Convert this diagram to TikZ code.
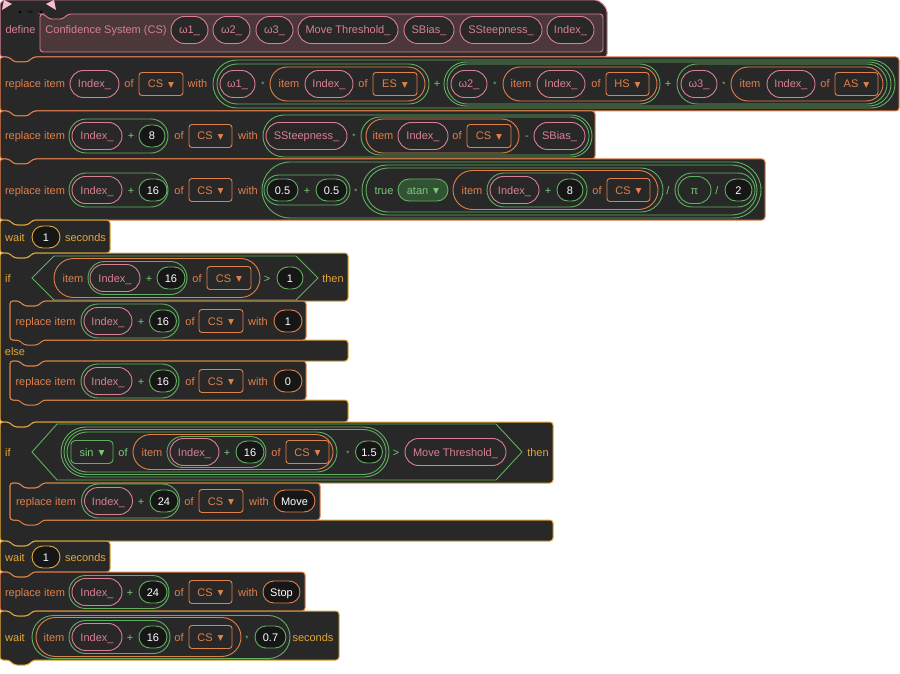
\documentclass[tikz,border=0pt]{standalone}
\usepackage{fontspec}
\setmainfont{Liberation Sans}
\newfontfamily\arrowfont[Scale=0.7]{DejaVu Sans}
\newcommand\dn{\hspace{5pt}\raisebox{0.5pt}{\arrowfont ▼}}
\definecolor{blockbg}{RGB}{40,40,40}
\definecolor{numbg}{RGB}{22,22,22}
\definecolor{listc}{RGB}{226,128,74}
\definecolor{ctrlc}{RGB}{226,168,56}
\definecolor{opc}{RGB}{96,176,96}
\definecolor{optext}{RGB}{120,200,120}
\definecolor{myc}{RGB}{218,128,148}
\definecolor{protoc}{RGB}{76,56,58}
\definecolor{earc}{RGB}{246,190,206}
\definecolor{opmenuc}{RGB}{50,82,52}
\tikzset{
  every node/.style={font=\fontsize{11}{13}\selectfont,inner sep=0pt,text height=8pt,text depth=0pt},
  blk/.style={fill=blockbg,draw=#1,line width=1pt,rounded corners=3pt},
  notchin/.style={insert path={-- ++(5,5) -- ++(14,0) -- ++(5,-5)}},
  tabout/.style={insert path={-- ++(-5,5) -- ++(-14,0) -- ++(-5,-5)}},
  lt/.style={text=listc},ct/.style={text=ctrlc},ot/.style={text=optext},mt/.style={text=myc},
  star/.style={text=optext,font=\fontsize{8}{9}\selectfont},
  var/.style={draw=myc,text=myc,fill=blockbg,line width=0.9pt,minimum height=27,rounded corners=13.5,minimum width=#1},
  pivar/.style={draw=opc,text=optext,fill=blockbg,line width=0.9pt,minimum height=27,rounded corners=13.5,minimum width=#1},
  num/.style 2 args={draw=#1,text=white,fill=numbg,line width=0.9pt,minimum height=22,rounded corners=11,minimum width=#2},
  menu/.style={draw=listc,text=listc,fill=blockbg,line width=0.9pt,minimum height=23,rounded corners=3,minimum width=#1},
  omenu/.style={draw=opc,text=optext,fill=blockbg,line width=0.9pt,minimum height=23,rounded corners=4,minimum width=#1},
  opmenu/.style={draw=opc,text=optext,fill=opmenuc,line width=0.9pt,minimum height=22,rounded corners=11,minimum width=#1},
  ring/.style n args={3}{draw=#1,line width=0.9pt,minimum width=#2,minimum height=#3,rounded corners=#3/2},
  opline/.style={draw=opc,fill=blockbg,line width=0.9pt}
}
\begin{document}
\begin{tikzpicture}[x=1pt,y=-1pt]
\fill[white] (0,0) rectangle (900,674);
\useasboundingbox (0,0) rectangle (900,674);
% define
\draw[blk=myc] (0,30) -- (0,8) .. controls (0,3) and (3,0) .. (8,0) -- (592,0) .. controls (600,0) and (607,7) .. (607,15) -- (607,57) -- (33,57) [tabout] -- (0,57) -- cycle;
\fill[earc] (2,10) -- (4,0) -- (12,4) -- cycle;
\fill[earc] (46,4) -- (54,0) -- (56,10) -- cycle;
\fill[black] (20,12) circle (1.4);\fill[black] (41,12) circle (1.4);
\node[text=black,font=\fontsize{6}{6}\selectfont] (mouth) at (30.5,10) {ω};
\draw[fill=protoc,draw=myc,line width=0.9pt,rounded corners=3] (40,14) -- (44,14) [notchin] -- (603,14) -- (603,52) -- (40,52) -- cycle;
\node[mt] (define) at (20.5,30) {define};
\node[mt] (proto) at (106,30) {Confidence System (CS)};
\node[var=37] (pw1) at (189.5,30) {ω1\_};
\node[var=37] (pw2) at (231.5,30) {ω2\_};
\node[var=37] (pw3) at (274.5,30) {ω3\_};
\node[var=100] (pmove) at (348,30) {Move Threshold\_};
\node[var=50] (pbias) at (429,30) {SBias\_};
\node[var=82] (psteep) at (501,30) {SSteepness\_};
\node[var=47] (pidx) at (570.5,30) {Index\_};
% row 2
\draw[blk=listc] (0,57) -- (9,57) [notchin] -- (899,57) -- (899,111) -- (33,111) [tabout] -- (0,111) -- cycle;
\node[lt] (rep1) at (35,84) {replace item};
\node[var=49] (idx1) at (94.5,84) {Index\_};
\node[lt] (of1) at (129,84) {of};
\node[menu=44] (cs1) at (161,84) {CS\dn};
\node[lt] (with1) at (197.5,84) {with};
\node[ring={opc}{682}{48}] (sum1) at (554,84) {};
\node[ring={opc}{212}{40}] (mul1) at (323,84) {};
\node[var=35] (w1) at (237.5,84) {ω1\_};
\node[star] (star1) at (263,84) {*};
\node[ring={listc}{155}{34}] (item1) at (347.5,84) {};
\node[lt] (itm1) at (289,84) {item};
\node[var=48] (idx2) at (329,84) {Index\_};
\node[lt] (of2) at (363,84) {of};
\node[menu=44] (es) at (395,84) {ES\dn};
\node[ot] (plus1) at (437,84) {+};
\node[ring={opc}{447}{44}] (sum2) at (667.5,84) {};
\node[ring={opc}{213}{40}] (mul2) at (553.5,84) {};
\node[var=36] (w2) at (469,84) {ω2\_};
\node[star] (star2) at (495,84) {*};
\node[ring={listc}{154}{34}] (item2) at (580,84) {};
\node[lt] (itm2) at (521,84) {item};
\node[var=48] (idx3) at (561,84) {Index\_};
\node[lt] (of3) at (596,84) {of};
\node[menu=43] (hs) at (627.5,84) {HS\dn};
\node[ot] (plus2) at (668,84) {+};
\node[ring={opc}{210}{40}] (mul3) at (782,84) {};
\node[var=36] (w3) at (699,84) {ω3\_};
\node[star] (star3) at (724,84) {*};
\node[ring={listc}{152}{34}] (item3) at (807,84) {};
\node[lt] (itm3) at (750,84) {item};
\node[var=48] (idx4) at (791,84) {Index\_};
\node[lt] (of4) at (825,84) {of};
\node[menu=43] (as) at (856.5,84) {AS\dn};
% row 3
\draw[blk=listc] (0,111) -- (9,111) [notchin] -- (595,111) -- (595,159) -- (33,159) [tabout] -- (0,159) -- cycle;
\node[lt] (rep2) at (35,136) {replace item};
\node[ring={opc}{99}{34}] (add1) at (118.5,136) {};
\node[var=50] (idx5) at (97,136) {Index\_};
\node[ot] (plus3) at (131,136) {+};
\node[num={opc}{26}] (n8a) at (152,136) {8};
\node[lt] (of5) at (179,136) {of};
\node[menu=43] (cs2) at (210.5,136) {CS\dn};
\node[lt] (with2) at (248,136) {with};
\node[ring={opc}{329}{42}] (mul4) at (427.5,136) {};
\node[var=81] (steep) at (306.5,136) {SSteepness\_};
\node[star] (star4) at (354,136) {*};
\node[ring={opc}{228}{38}] (sub1) at (475,136) {};
\node[ring={listc}{153}{34}] (item4) at (442.5,136) {};
\node[lt] (itm4) at (383,136) {item};
\node[var=50] (idx6) at (423,136) {Index\_};
\node[lt] (of6) at (457,136) {of};
\node[menu=44] (cs3) at (489,136) {CS\dn};
\node[ot] (minus1) at (527,136) {-};
\node[var=51] (bias) at (559.5,136) {SBias\_};
% row 4
\draw[blk=listc] (0,159) -- (9,159) [notchin] -- (765,159) -- (765,220) -- (33,220) [tabout] -- (0,220) -- cycle;
\node[lt] (rep3) at (35,190) {replace item};
\node[ring={opc}{99}{34}] (add2) at (118.5,190) {};
\node[var=50] (idx7) at (97,190) {Index\_};
\node[ot] (plus4) at (131,190) {+};
\node[num={opc}{28}] (n16a) at (153,190) {16};
\node[lt] (of7) at (179,190) {of};
\node[menu=43] (cs4) at (210.5,190) {CS\dn};
\node[lt] (with3) at (248,190) {with};
\node[ring={opc}{499}{56}] (mul5) at (511.5,190) {};
\node[ring={opc}{86}{30}] (add3) at (307,190) {};
\node[num={opc}{31}] (half1) at (282.5,190) {0.5};
\node[ot] (plus5) at (307,190) {+};
\node[num={opc}{31}] (half2) at (331.5,190) {0.5};
\node[star] (star5) at (356,190) {*};
\node[ring={opc}{395}{50}] (div1) at (559.5,190) {};
\node[ring={opc}{297}{44}] (atan1) at (514.5,190) {};
\node[ot] (true1) at (384,190) {true};
\node[opmenu=50] (atan) at (423,190) {atan\dn};
\node[ring={listc}{205}{39}] (item5) at (555.5,190) {};
\node[lt] (itm5) at (472,190) {item};
\node[ring={opc}{100}{34}] (add4) at (537,190) {};
\node[var=49] (idx8) at (514.5,190) {Index\_};
\node[ot] (plus6) at (548,190) {+};
\node[num={opc}{26}] (n8b) at (570,190) {8};
\node[lt] (of8) at (597,190) {of};
\node[menu=43] (cs5) at (628.5,190) {CS\dn};
\node[ot] (slash1) at (668,190) {/};
\node[ring={opc}{80}{34}] (div2) at (715,190) {};
\node[pivar=33] (pi) at (694.5,190) {π};
\node[ot] (slash2) at (717,190) {/};
\node[num={opc}{27}] (n2) at (738.5,190) {2};
% wait 1
\draw[blk=ctrlc] (0,220) -- (9,220) [notchin] -- (110,220) -- (110,253) -- (33,253) [tabout] -- (0,253) -- cycle;
\node[ct] (wait1) at (15,237) {wait};
\node[num={ctrlc}{28}] (one1) at (46,237) {1};
\node[ct] (sec1) at (85.5,237) {seconds};
% if else
\draw[blk=ctrlc] (0,253) -- (9,253) [notchin] -- (348,253) -- (348,301) -- (43,301) [tabout] -- (10,301) -- (10,340) -- (348,340) -- (348,361) -- (43,361) [tabout] -- (10,361) -- (10,400) -- (348,400) -- (348,422) -- (33,422) [tabout] -- (0,422) -- cycle;
\node[ct] (if1) at (8,278) {if};
\draw[opline] (32,278) -- (54,256) -- (296,256) -- (318,278) -- (296,300) -- (54,300) -- cycle;
\node[ring={listc}{206}{39}] (item6) at (157,278) {};
\node[lt] (itm6) at (73,278) {item};
\node[ring={opc}{99}{33}] (add5) at (137.5,278) {};
\node[var=50] (idx9) at (115,278) {Index\_};
\node[ot] (plus7) at (149,278) {+};
\node[num={opc}{28}] (n16b) at (171,278) {16};
\node[lt] (of9) at (197,278) {of};
\node[menu=44] (cs6) at (229,278) {CS\dn};
\node[ot] (gt1) at (267,278) {>};
\node[num={opc}{26}] (one2) at (290,278) {1};
\node[ct] (then1) at (333,278) {then};
\draw[blk=listc] (10,301) -- (19,301) [notchin] -- (306,301) -- (306,340) -- (43,340) [tabout] -- (10,340) -- cycle;
\node[lt] (rep4) at (45.5,321) {replace item};
\node[ring={opc}{98}{34}] (add6) at (130,321) {};
\node[var=48] (idx10) at (108,321) {Index\_};
\node[ot] (plus8) at (141,321) {+};
\node[num={opc}{27}] (n16c) at (163,321) {16};
\node[lt] (of10) at (190,321) {of};
\node[menu=44] (cs7) at (221,321) {CS\dn};
\node[lt] (with4) at (258,321) {with};
\node[num={listc}{28}] (one3) at (288,321) {1};
\node[ct] (else1) at (15,351) {else};
\draw[blk=listc] (10,361) -- (19,361) [notchin] -- (306,361) -- (306,400) -- (43,400) [tabout] -- (10,400) -- cycle;
\node[lt] (rep5) at (45.5,381) {replace item};
\node[ring={opc}{98}{34}] (add7) at (130,381) {};
\node[var=48] (idx11) at (108,381) {Index\_};
\node[ot] (plus9) at (141,381) {+};
\node[num={opc}{27}] (n16d) at (163,381) {16};
\node[lt] (of11) at (190,381) {of};
\node[menu=44] (cs8) at (221,381) {CS\dn};
\node[lt] (with5) at (258,381) {with};
\node[num={listc}{28}] (zero1) at (288,381) {0};
% if
\draw[blk=ctrlc] (0,422) -- (9,422) [notchin] -- (553,422) -- (553,483) -- (43,483) [tabout] -- (10,483) -- (10,520) -- (553,520) -- (553,541) -- (33,541) [tabout] -- (0,541) -- cycle;
\node[ct] (if2) at (8,452) {if};
\draw[opline] (32,452) -- (57,424) -- (496,424) -- (522,452) -- (496,480) -- (57,480) -- cycle;
\node[ring={opc}{328}{50}] (par1) at (225,452) {};
\node[ring={opc}{322}{45}] (mul6) at (225,452) {};
\node[ring={opc}{270}{40}] (sin1) at (202,452) {};
\node[omenu=42] (sin) at (92,452) {sin\dn};
\node[ot] (of12) at (123,452) {of};
\node[ring={listc}{200}{35}] (item7) at (233,452) {};
\node[lt] (itm7) at (152,452) {item};
\node[ring={opc}{99}{31}] (add8) at (216.5,452) {};
\node[var=49] (idx12) at (194.5,452) {Index\_};
\node[ot] (plus10) at (227,452) {+};
\node[num={opc}{28}] (n16e) at (250,452) {16};
\node[lt] (of13) at (276,452) {of};
\node[menu=43] (cs9) at (307.5,452) {CS\dn};
\node[star] (star6) at (348,452) {*};
\node[num={opc}{27}] (n15) at (369,452) {1.5};
\node[ot] (gt2) at (396,452) {>};
\node[var=101] (move1) at (455.5,452) {Move Threshold\_};
\node[ct] (then2) at (538,452) {then};
\draw[blk=listc] (10,483) -- (19,483) [notchin] -- (320,483) -- (320,520) -- (43,520) [tabout] -- (10,520) -- cycle;
\node[lt] (rep6) at (46,501) {replace item};
\node[ring={opc}{98}{34}] (add9) at (130.5,501) {};
\node[var=48] (idx13) at (108.5,501) {Index\_};
\node[ot] (plus11) at (141,501) {+};
\node[num={opc}{28}] (n24a) at (164,501) {24};
\node[lt] (of14) at (189,501) {of};
\node[menu=44] (cs10) at (221,501) {CS\dn};
\node[lt] (with6) at (259,501) {with};
\node[num={listc}{41}] (move) at (294.5,501) {Move};
% wait 1
\draw[blk=ctrlc] (0,541) -- (9,541) [notchin] -- (110,541) -- (110,572) -- (33,572) [tabout] -- (0,572) -- cycle;
\node[ct] (wait2) at (15,557) {wait};
\node[num={ctrlc}{28}] (one4) at (46,557) {1};
\node[ct] (sec2) at (85.5,557) {seconds};
% stop
\draw[blk=listc] (0,572) -- (9,572) [notchin] -- (305,572) -- (305,611) -- (33,611) [tabout] -- (0,611) -- cycle;
\node[lt] (rep7) at (35,592) {replace item};
\node[ring={opc}{100}{33}] (add10) at (119,592) {};
\node[var=50] (idx14) at (97,592) {Index\_};
\node[ot] (plus12) at (130,592) {+};
\node[num={opc}{28}] (n24b) at (153,592) {24};
\node[lt] (of15) at (179,592) {of};
\node[menu=43] (cs11) at (210.5,592) {CS\dn};
\node[lt] (with7) at (248,592) {with};
\node[num={listc}{37}] (stop) at (281.5,592) {Stop};
% wait item
\draw[blk=ctrlc] (0,611) -- (9,611) [notchin] -- (339,611) -- (339,660) -- (33,660) [tabout] -- (0,660) -- cycle;
\node[ct] (wait3) at (15,637) {wait};
\node[ring={opc}{258}{43}] (mul7) at (161,637) {};
\node[ring={listc}{205}{39}] (item8) at (138.5,637) {};
\node[lt] (itm8) at (54,637) {item};
\node[ring={opc}{101}{33}] (add11) at (119.5,637) {};
\node[var=50] (idx15) at (97,637) {Index\_};
\node[ot] (plus13) at (130,637) {+};
\node[num={opc}{28}] (n16f) at (153,637) {16};
\node[lt] (of16) at (179,637) {of};
\node[menu=43] (cs12) at (210.5,637) {CS\dn};
\node[star] (star7) at (247,637) {*};
\node[num={opc}{31}] (n07) at (270.5,637) {0.7};
\node[ct] (sec3) at (313,637) {seconds};
\end{tikzpicture}
\end{document}
